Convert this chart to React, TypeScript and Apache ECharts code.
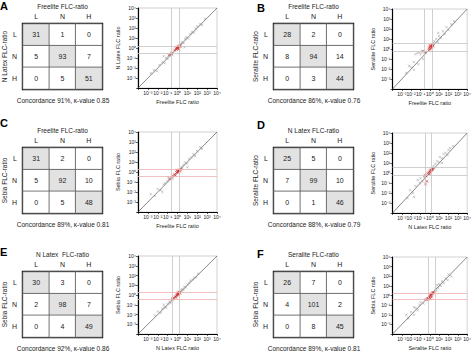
import React, { useEffect, useRef } from 'react';
import * as echarts from 'echarts';

const CATS = ['L', 'N', 'H'];
const LETTERS = ['A', 'B', 'C', 'D', 'E', 'F'];
const X_TESTS = ['Freelite', 'Freelite', 'Freelite', 'N Latex', 'N Latex', 'Seralite'];
const Y_TESTS = ['N Latex', 'Seralite', 'Sebia', 'Seralite', 'Sebia', 'Sebia'];
const MATRIX_X_TITLES = ['Freelite FLC-ratio', 'Freelite FLC-ratio', 'Freelite FLC-ratio', 'N Latex FLC-ratio', 'N Latex  FLC-ratio', 'Seralite FLC-ratio'];
const CONCORDANCE = [91, 86, 89, 88, 92, 89];
const KAPPA = ['0.85', '0.76', '0.81', '0.79', '0.86', '0.81'];

const MAT_A = [[31, 1, 0], [5, 93, 7], [0, 5, 51]];
const MAT_B = [[28, 2, 0], [8, 94, 14], [0, 3, 44]];
const MAT_C = [[31, 2, 0], [5, 92, 10], [0, 5, 48]];
const MAT_D = [[25, 5, 0], [7, 99, 10], [0, 1, 46]];
const MAT_E = [[30, 3, 0], [2, 98, 7], [0, 4, 49]];
const MAT_F = [[26, 7, 0], [4, 101, 2], [0, 8, 45]];
const MATRICES = [MAT_A, MAT_B, MAT_C, MAT_D, MAT_E, MAT_F];

const AXIS_RANGE = [1e-4, 1e4];
const REF_RANGES: Record<string, number[]> = {
  'Freelite': [0.26, 1.65],
  'N Latex': [0.31, 1.56],
  'Seralite': [0.62, 3.4],
  'Sebia': [0.4, 1.8],
};
const REF_COLORS: Record<string, string> = {
  'Freelite': '#c4c4c4',
  'N Latex': '#c4c4c4',
  'Seralite': '#c4c4c4',
  'Sebia': '#eeb0b0',
};

const GRAY_A = [[0.002,0.003],[0.004,0.006],[0.008,0.005],[0.015,0.02],[0.03,0.04],[0.05,0.03],[0.07,0.1],[0.1,0.08],[0.13,0.18],[0.2,0.25],[0.3,0.2],[2.2,2.8],[3,4],[4,3],[6,8],[8,12],[12,9],[20,25],[30,40],[45,35],[70,90],[100,150],[200,250],[300,200],[600,800],[0.04,0.15],[5,1.2]];
const RED_A = [[0.5,0.6],[0.7,0.9],[0.9,1.0],[1.0,1.2],[1.1,0.9],[1.2,1.4],[1.3,1.1],[1.5,1.3],[1.6,1.7],[0.8,0.7],[1.4,0.8],[1.9,1.5],[0.15,0.2],[0.25,0.3]];
const GRAY_B = [[0.003,0.004],[0.006,0.02],[0.01,0.015],[0.02,0.05],[0.03,0.3],[0.05,0.4],[0.08,0.5],[0.1,0.3],[0.15,0.6],[0.2,0.1],[0.3,0.4],[0.06,0.03],[2.5,4],[3,6],[5,10],[7,5],[10,20],[15,12],[25,60],[40,30],[60,150],[100,80],[200,300],[400,600],[0.02,0.008],[8,40]];
const RED_B = [[0.8,1.2],[1,1.5],[1.2,1.8],[1.4,2.0],[1.6,2.4],[1.8,1.6],[2,2.8],[1.1,2.2],[0.9,0.8],[1.3,1.1],[2.2,2.0],[0.3,0.5],[0.2,0.6]];
const GRAY_C = [[0.002,0.006],[0.005,0.004],[0.01,0.02],[0.02,0.015],[0.04,0.06],[0.06,0.08],[0.1,0.12],[0.12,0.3],[0.2,0.25],[0.3,0.2],[2.5,3],[3,2.5],[4,5],[6,9],[9,7],[15,20],[25,30],[40,60],[60,40],[100,120],[200,300],[300,200],[0.03,0.01],[10,3]];
const RED_C = [[0.3,0.4],[0.5,0.6],[0.8,0.9],[1,1.1],[1.1,0.9],[1.2,1.3],[1.4,1.2],[1.5,1.6],[1.7,1.4],[0.9,1.5],[2,1.8],[0.15,0.2],[0.6,0.45]];
const GRAY_D = [[0.004,0.003],[0.008,0.02],[0.015,0.01],[0.03,0.05],[0.05,0.2],[0.08,0.1],[0.1,0.3],[0.15,0.15],[0.25,0.4],[0.02,0.004],[2.5,5],[3,3],[4,8],[6,15],[10,12],[12,40],[20,30],[30,80],[50,100],[80,60],[150,300],[300,500],[20,10],[100,200]];
const RED_D = [[0.3,0.6],[0.4,0.5],[0.5,0.15],[0.6,0.9],[0.8,1.2],[1,1.5],[1.2,2],[1.4,1.8],[1.6,2.6],[1.8,2.2],[0.9,0.8],[2,3],[0.35,0.08]];
const GRAY_E = [[0.01,0.02],[0.02,0.015],[0.03,0.04],[0.05,0.06],[0.07,0.05],[0.1,0.12],[0.15,0.2],[0.2,0.15],[0.3,0.35],[2.5,3],[3,4],[4,3.5],[5,7],[7,6],[10,12],[15,18],[20,30],[35,40],[50,60],[80,70],[120,150],[0.005,0.008],[0.04,0.1]];
const RED_E = [[0.4,0.5],[0.6,0.7],[0.8,0.9],[0.9,1.2],[1,1],[1.1,1.4],[1.2,1.6],[1.3,1.1],[1.4,1.8],[1.5,2.0],[0.7,0.55],[1.7,1.5],[0.3,0.4]];
const GRAY_F = [[0.003,0.01],[0.005,0.004],[0.01,0.02],[0.02,0.01],[0.03,0.05],[0.05,0.03],[0.08,0.1],[0.1,0.2],[0.2,0.15],[0.3,0.4],[3,2],[4,5],[5,3],[8,6],[10,15],[15,10],[20,30],[30,20],[50,60],[80,40],[100,150],[200,100],[0.02,0.06],[6,12]];
const RED_F = [[0.5,0.35],[0.7,0.5],[0.9,0.6],[1,0.8],[1.2,1],[1.4,1.1],[1.6,1.4],[1.8,1.5],[2,1.8],[2.4,2.2],[1.1,0.45],[1.5,0.7],[0.6,0.45]];
const GRAYS = [GRAY_A, GRAY_B, GRAY_C, GRAY_D, GRAY_E, GRAY_F];
const REDS = [RED_A, RED_B, RED_C, RED_D, RED_E, RED_F];

const FONT = 'Liberation Sans, Arial, sans-serif';
const SUP: Record<string, string> = { '0': '⁰', '1': '¹', '2': '²', '3': '³', '4': '⁴', '5': '⁵', '6': '⁶', '7': '⁷', '8': '⁸', '9': '⁹', '-': '⁻' };
const powLabel = (v: number) => {
  const e = Math.round(Math.log10(v));
  if (e <= -4) return '';
  return '10' + String(e).split('').map((c) => SUP[c]).join('');
};
const CROSS = 'path://M0 0L10 10M10 0L0 10';

function buildOption() {
  const grid: any[] = [];
  const xAxis: any[] = [];
  const yAxis: any[] = [];
  const series: any[] = [];
  const graphic: any[] = [];
  const heatIdx: number[] = [];

  LETTERS.forEach((letter, i) => {
    const c = i % 2;
    const r = Math.floor(i / 2);
    const dx = c * 251;
    const dy = r * 124;
    const gm = grid.length;
    grid.push({ left: 23 + dx, top: 24 + dy, width: 79, height: 65, show: true, borderColor: '#000', borderWidth: 2.4, backgroundColor: '#fff' });
    xAxis.push({
      gridIndex: gm, type: 'category', data: CATS, position: 'top',
      axisLine: { show: false }, axisTick: { show: false }, splitLine: { show: false },
      axisLabel: { fontSize: 7, margin: 4, color: '#222' },
      name: MATRIX_X_TITLES[i], nameLocation: 'middle', nameGap: 14,
      nameTextStyle: { fontSize: 6.5, color: '#222' },
    });
    yAxis.push({
      gridIndex: gm, type: 'category', data: CATS, inverse: true,
      axisLine: { show: false }, axisTick: { show: false }, splitLine: { show: false },
      axisLabel: { fontSize: 7, margin: 6, color: '#222' },
      name: Y_TESTS[i] + ' FLC-ratio', nameLocation: 'middle', nameGap: 14,
      nameTextStyle: { fontSize: 6.5, color: '#222' },
    });
    const M = MATRICES[i];
    const cells: any[] = [];
    M.forEach((row, ri) => row.forEach((v, ci) => {
      cells.push([ci, ri, v, ri === ci ? 1 : 0]);
    }));
    heatIdx.push(series.length);
    series.push({
      type: 'heatmap', xAxisIndex: gm, yAxisIndex: gm, data: cells,
      label: { show: true, fontSize: 7, color: '#222', formatter: (p: any) => String(p.value[2]) },
      itemStyle: { borderColor: '#555', borderWidth: 0.8 },
      emphasis: { disabled: true },
    });

    const gs = grid.length;
    grid.push({ left: 138 + c * 254.5, top: 8 + dy + c, width: 79, height: 80, show: true, borderColor: '#b4b4b4', borderWidth: 0.6 });
    const logAxis = (name: string) => ({
      gridIndex: gs, type: 'log', logBase: 10, min: AXIS_RANGE[0], max: AXIS_RANGE[1], splitNumber: 8,
      axisLine: { show: true, onZero: false, lineStyle: { color: '#000', width: 1.2 } },
      axisTick: { show: true, length: 2, lineStyle: { color: '#000', width: 0.6 } },
      splitLine: { show: false },
      axisLabel: { fontSize: 5, margin: 2, color: '#222', formatter: powLabel },
      name, nameLocation: 'middle',
      nameTextStyle: { fontSize: 5.5, color: '#222' },
    });
    xAxis.push({ ...logAxis(X_TESTS[i] + ' FLC ratio'), nameGap: 11 });
    yAxis.push({ ...logAxis(Y_TESTS[i] + ' FLC ratio'), nameGap: 17 });
    const xr = REF_RANGES[X_TESTS[i]];
    const yr = REF_RANGES[Y_TESTS[i]];
    const xc = REF_COLORS[X_TESTS[i]];
    const yc = REF_COLORS[Y_TESTS[i]];
    series.push({
      type: 'line', xAxisIndex: gs, yAxisIndex: gs, silent: true, symbol: 'none', z: 1,
      data: [[AXIS_RANGE[0], AXIS_RANGE[0]], [AXIS_RANGE[1], AXIS_RANGE[1]]],
      lineStyle: { color: '#555', width: 0.7 },
      markLine: {
        silent: true, symbol: ['none', 'none'], label: { show: false },
        lineStyle: { type: 'solid', width: 0.8 },
        data: [
          { xAxis: xr[0], lineStyle: { color: xc, type: 'solid', width: 0.8 } },
          { xAxis: xr[1], lineStyle: { color: xc, type: 'solid', width: 0.8 } },
          { yAxis: yr[0], lineStyle: { color: yc, type: 'solid', width: 0.8 } },
          { yAxis: yr[1], lineStyle: { color: yc, type: 'solid', width: 0.8 } },
        ],
      },
    });
    series.push({
      type: 'scatter', xAxisIndex: gs, yAxisIndex: gs, silent: true, z: 3,
      data: GRAYS[i], symbol: CROSS, symbolSize: 2.4,
      itemStyle: { color: 'none', borderColor: '#8a8a8a', borderWidth: 0.5 },
    });
    series.push({
      type: 'scatter', xAxisIndex: gs, yAxisIndex: gs, silent: true, z: 4,
      data: REDS[i], symbol: CROSS, symbolSize: 2.8,
      itemStyle: { color: 'none', borderColor: '#d42a2a', borderWidth: 0.7 },
    });

    graphic.push({
      type: 'text', x: c === 0 ? 0 : 257, y: [0, 117, 246][r] + c * 2,
      style: { text: letter, fontSize: 11, fontWeight: 'bold', fill: '#000', fontFamily: FONT },
    });
    graphic.push({
      type: 'text', x: 63 + dx, y: 100 + dy,
      style: {
        text: `Concordance ${CONCORDANCE[i]}%, κ-value ${KAPPA[i]}`,
        fontSize: 6.5, fill: '#222', fontFamily: FONT, align: 'center', verticalAlign: 'middle',
      },
    });
  });

  return {
    animation: false,
    backgroundColor: '#fff',
    textStyle: { fontFamily: FONT },
    visualMap: {
      type: 'piecewise', show: false, seriesIndex: heatIdx, dimension: 3,
      pieces: [{ value: 1, color: '#e2e2e2' }, { value: 0, color: '#ffffff' }],
    },
    grid, xAxis, yAxis, series, graphic,
  };
}

export default function App() {
  const ref = useRef<HTMLDivElement>(null);
  useEffect(() => {
    if (!ref.current) return;
    const chart = echarts.init(ref.current, undefined, { renderer: 'svg' });
    chart.setOption(buildOption() as any);
    return () => chart.dispose();
  }, []);
  return <div ref={ref} style={{ position: 'absolute', left: 0, top: 0, width: 474, height: 352 }} />;
}
